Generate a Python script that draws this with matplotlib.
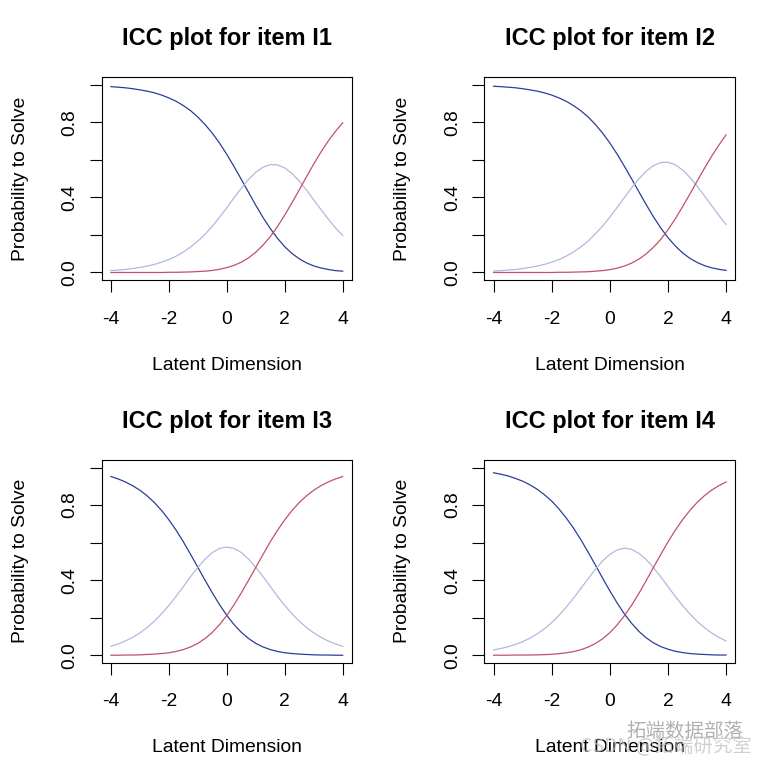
import numpy as np
import matplotlib
matplotlib.use("Agg")
import matplotlib.pyplot as plt

plt.rcParams['font.family'] = ['Liberation Sans', 'DejaVu Sans']

# latent dimension grid (values every 0.25)
theta = [-4, -3.75, -3.5, -3.25, -3, -2.75, -2.5, -2.25, -2, -1.75, -1.5, -1.25, -1, -0.75, -0.5, -0.25,
         0, 0.25, 0.5, 0.75, 1, 1.25, 1.5, 1.75, 2, 2.25, 2.5, 2.75, 3, 3.25, 3.5, 3.75, 4]

items = ["I1", "I2", "I3", "I4"]

# category 0 (dark blue), category 1 (light), category 2 (red)
i1_cat0 = [0.990, 0.987, 0.984, 0.979, 0.973, 0.966, 0.957, 0.945, 0.930, 0.912, 0.889, 0.862, 0.828, 0.788, 0.742, 0.689,
           0.629, 0.564, 0.496, 0.427, 0.358, 0.293, 0.234, 0.182, 0.137, 0.101, 0.073, 0.051, 0.035, 0.024, 0.016, 0.010, 0.007]
i1_cat1 = [0.010, 0.013, 0.016, 0.021, 0.027, 0.034, 0.043, 0.055, 0.069, 0.087, 0.109, 0.136, 0.167, 0.204, 0.247, 0.294,
           0.345, 0.398, 0.449, 0.496, 0.534, 0.561, 0.575, 0.573, 0.557, 0.527, 0.487, 0.439, 0.387, 0.335, 0.285, 0.238, 0.197]
i1_cat2 = [0.000, 0.000, 0.000, 0.000, 0.000, 0.000, 0.000, 0.000, 0.001, 0.001, 0.002, 0.003, 0.005, 0.007, 0.011, 0.017,
           0.026, 0.038, 0.055, 0.078, 0.108, 0.146, 0.191, 0.245, 0.306, 0.372, 0.440, 0.510, 0.578, 0.642, 0.700, 0.752, 0.797]

i2_cat0 = [0.992, 0.990, 0.987, 0.984, 0.979, 0.973, 0.966, 0.957, 0.945, 0.930, 0.912, 0.889, 0.862, 0.829, 0.789, 0.743,
           0.690, 0.631, 0.566, 0.499, 0.430, 0.362, 0.297, 0.238, 0.186, 0.142, 0.105, 0.076, 0.054, 0.037, 0.025, 0.017, 0.011]
i2_cat1 = [0.008, 0.010, 0.013, 0.016, 0.021, 0.027, 0.034, 0.043, 0.055, 0.069, 0.087, 0.109, 0.136, 0.167, 0.205, 0.247,
           0.295, 0.346, 0.399, 0.451, 0.499, 0.540, 0.569, 0.586, 0.587, 0.574, 0.547, 0.508, 0.461, 0.410, 0.357, 0.305, 0.256]
i2_cat2 = [0.000, 0.000, 0.000, 0.000, 0.000, 0.000, 0.000, 0.000, 0.000, 0.001, 0.001, 0.002, 0.003, 0.004, 0.007, 0.010,
           0.015, 0.023, 0.034, 0.050, 0.071, 0.099, 0.134, 0.176, 0.227, 0.285, 0.349, 0.416, 0.485, 0.553, 0.618, 0.678, 0.733]

i3_cat0 = [0.952, 0.939, 0.923, 0.903, 0.879, 0.849, 0.813, 0.771, 0.721, 0.666, 0.604, 0.537, 0.468, 0.399, 0.332, 0.269,
           0.212, 0.163, 0.122, 0.089, 0.063, 0.044, 0.030, 0.020, 0.013, 0.009, 0.006, 0.004, 0.002, 0.001, 0.001, 0.000, 0.000]
i3_cat1 = [0.047, 0.060, 0.076, 0.095, 0.119, 0.148, 0.181, 0.221, 0.265, 0.314, 0.366, 0.419, 0.468, 0.512, 0.547, 0.569,
           0.576, 0.569, 0.547, 0.512, 0.468, 0.419, 0.366, 0.314, 0.265, 0.221, 0.181, 0.148, 0.119, 0.095, 0.076, 0.060, 0.047]
i3_cat2 = [0.000, 0.000, 0.001, 0.001, 0.002, 0.004, 0.006, 0.009, 0.013, 0.020, 0.030, 0.044, 0.063, 0.089, 0.122, 0.163,
           0.212, 0.269, 0.332, 0.399, 0.468, 0.537, 0.604, 0.666, 0.721, 0.771, 0.813, 0.849, 0.879, 0.903, 0.923, 0.939, 0.952]

i4_cat0 = [0.972, 0.964, 0.955, 0.942, 0.927, 0.908, 0.884, 0.855, 0.821, 0.779, 0.731, 0.677, 0.616, 0.550, 0.481, 0.411,
           0.343, 0.279, 0.220, 0.170, 0.127, 0.093, 0.066, 0.046, 0.032, 0.021, 0.014, 0.009, 0.006, 0.004, 0.002, 0.001, 0.001]
i4_cat1 = [0.028, 0.036, 0.045, 0.057, 0.072, 0.091, 0.114, 0.141, 0.174, 0.212, 0.256, 0.304, 0.355, 0.407, 0.457, 0.502,
           0.537, 0.561, 0.570, 0.564, 0.543, 0.510, 0.467, 0.418, 0.366, 0.314, 0.265, 0.221, 0.181, 0.148, 0.119, 0.095, 0.076]
i4_cat2 = [0.000, 0.000, 0.000, 0.001, 0.001, 0.001, 0.002, 0.003, 0.005, 0.008, 0.013, 0.019, 0.029, 0.043, 0.062, 0.087,
           0.120, 0.161, 0.210, 0.266, 0.329, 0.397, 0.467, 0.536, 0.603, 0.665, 0.721, 0.770, 0.813, 0.849, 0.879, 0.903, 0.923]

curves = [
    (i1_cat0, i1_cat1, i1_cat2),
    (i2_cat0, i2_cat1, i2_cat2),
    (i3_cat0, i3_cat1, i3_cat2),
    (i4_cat0, i4_cat1, i4_cat2),
]
cat_colors = ["#2B3F99", "#B3B8E0", "#C2506F"]

fig = plt.figure(figsize=(7.65, 7.65), dpi=100)

# axes boxes in figure fractions (left, bottom, width, height)
boxes = [
    (0.1329, 0.6340, 0.3272, 0.2650),
    (0.6331, 0.6340, 0.3281, 0.2650),
    (0.1329, 0.1337, 0.3272, 0.2650),
    (0.6331, 0.1337, 0.3281, 0.2650),
]

for item, box, cv in zip(items, boxes, curves):
    ax = fig.add_axes(box)
    for y, c in zip(cv, cat_colors):
        ax.plot(theta, y, color=c, lw=0.9)
    ax.set_xlim(-4.32, 4.32)
    ax.set_ylim(-0.04, 1.04)

    ax.set_xticks([-4, -2, 0, 2, 4])
    ax.set_xticklabels(["-4", "-2", "0", "2", "4"])
    ax.set_yticks([0, 0.2, 0.4, 0.6, 0.8, 1.0])
    ax.set_yticklabels(["0.0", "", "0.4", "", "0.8", ""])
    ax.tick_params(direction='out', length=8.6, width=0.8, labelsize=13.9, color='black')
    ax.tick_params(axis='x', pad=13.5)
    ax.tick_params(axis='y', pad=8)
    for lab in ax.get_yticklabels():
        lab.set_rotation(90)
        lab.set_va('center')
    for sp in ax.spines.values():
        sp.set_linewidth(0.8)

    ax.set_xlabel("Latent Dimension", fontsize=13.9, va='center')
    ax.xaxis.set_label_coords(0.5, -0.42)
    ax.set_ylabel("Probability to Solve", fontsize=13.9, va='center')
    ax.yaxis.set_label_coords(-0.326, 0.5)
    ax.text(0.5, 1.189, f"ICC plot for item {item}", fontsize=17, fontweight='bold',
            ha='center', va='center', transform=ax.transAxes)

# watermark
fig.text(0.895, 1 - 731 / 765, "拓端数据部落", fontsize=14, color='#A8A8A8',
         ha='center', va='center', family=['Noto Sans CJK SC', 'DejaVu Sans'], alpha=0.9)
fig.text(0.870, 1 - 746 / 765, "CSDN @拓端研究室", fontsize=14, color='#BDBDBD',
         ha='center', va='center', family=['Noto Sans CJK SC', 'DejaVu Sans'], alpha=0.7)

fig.savefig("out.png", dpi=100)
